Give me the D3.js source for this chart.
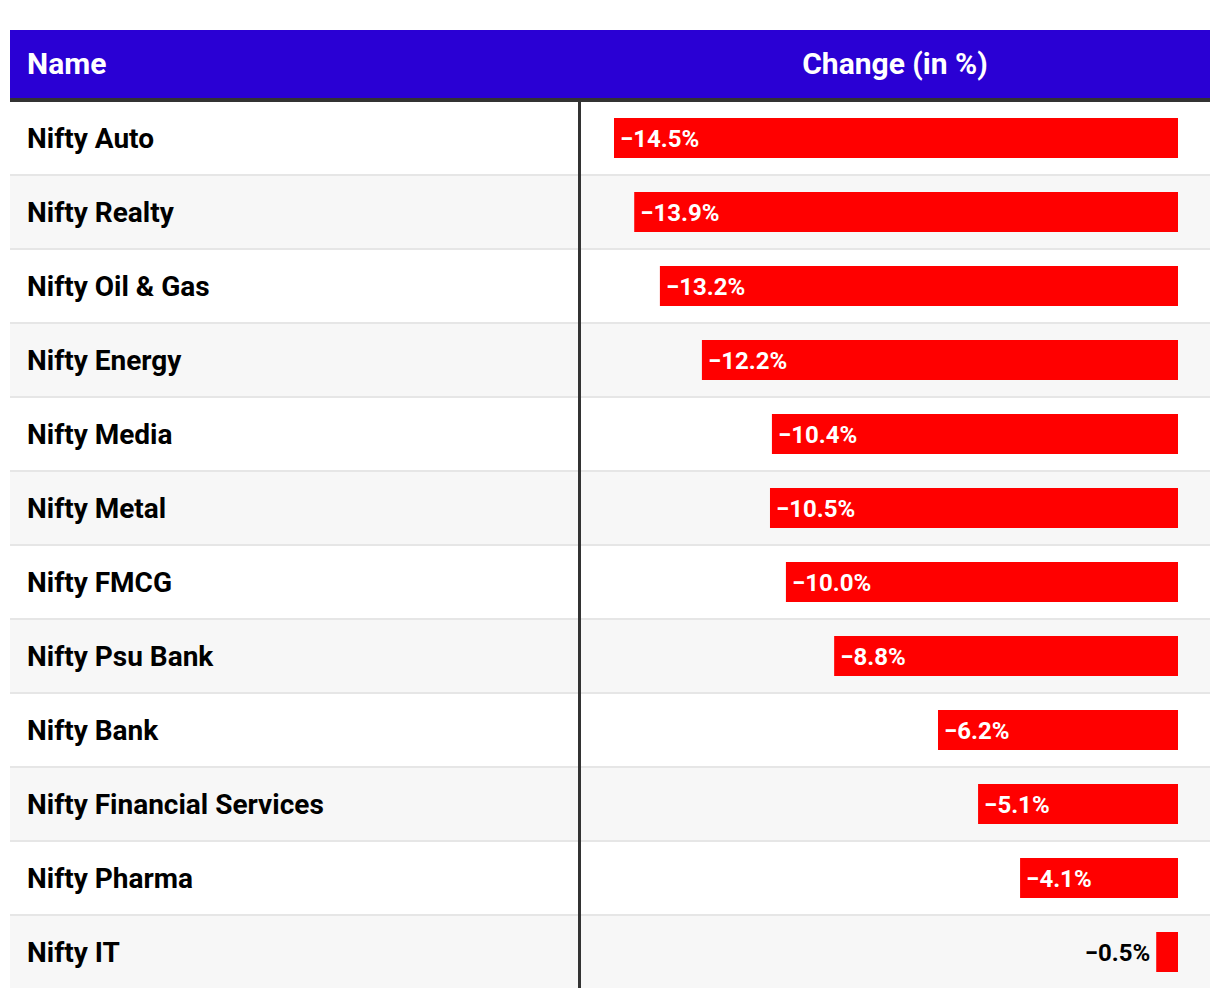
<!DOCTYPE html>
<html>
<head>
<meta charset="utf-8">
<script src="https://cdn.jsdelivr.net/npm/d3@7"></script>
<style>
  html, body { margin: 0; padding: 0; background: #ffffff; }
  svg { display: block; font-family: Roboto, "Noto Sans", sans-serif; }
</style>
</head>
<body>
<div id="chart"></div>
<script>
const names = ["Nifty Auto", "Nifty Realty", "Nifty Oil & Gas", "Nifty Energy", "Nifty Media", "Nifty Metal", "Nifty FMCG", "Nifty Psu Bank", "Nifty Bank", "Nifty Financial Services", "Nifty Pharma", "Nifty IT"];
const changes = [-14.5, -13.98, -13.32, -12.24, -10.44, -10.49, -10.08, -8.84, -6.17, -5.14, -4.06, -0.56];
const changeLabels = ["−14.5%", "−13.9%", "−13.2%", "−12.2%", "−10.4%", "−10.5%", "−10.0%", "−8.8%", "−6.2%", "−5.1%", "−4.1%", "−0.5%"];
const headers = ["Name", "Change (in %)"];

const W = 1220, H = 998;
const left = 10, right = 1210, headTop = 30, headBottom = 98, bodyTop = 102, rowH = 74;
const divX = 578;

const svg = d3.select("#chart").append("svg").attr("width", W).attr("height", H);

// header
svg.append("rect").attr("x", left).attr("y", headTop).attr("width", right - left).attr("height", headBottom - headTop).attr("fill", "#2a00d4");
svg.append("rect").attr("x", left).attr("y", headBottom).attr("width", right - left).attr("height", bodyTop - headBottom).attr("fill", "#333333");
svg.append("text").attr("x", 27).attr("y", 74).attr("fill", "#ffffff").attr("font-size", 30).attr("font-weight", 700).text(headers[0]);
svg.append("text").attr("x", (divX + 2 + right) / 2).attr("y", 74).attr("text-anchor", "middle").attr("fill", "#ffffff").attr("font-size", 30).attr("font-weight", 700).text(headers[1]);

const data = names.map((n, i) => ({ name: n, value: changes[i], label: changeLabels[i] }));

const y = d3.scaleBand().domain(names).range([bodyTop, bodyTop + rowH * names.length]).paddingInner(0).paddingOuter(0);
const x = d3.scaleLinear().domain([d3.min(changes), 0]).range([614, 1178]);

const rows = svg.selectAll("g.row").data(data).join("g").attr("class", "row")
  .attr("transform", d => `translate(0,${y(d.name)})`);

rows.append("rect").attr("x", left).attr("y", 0).attr("width", right - left).attr("height", rowH - 2)
  .attr("fill", (d, i) => i % 2 ? "#f7f7f7" : "#ffffff");
rows.filter((d, i) => i < names.length - 1).append("rect")
  .attr("x", left).attr("y", rowH - 2).attr("width", right - left).attr("height", 2).attr("fill", "#e6e6e6");

rows.append("text").attr("x", 27).attr("y", 46).attr("fill", "#000000").attr("font-size", 28).attr("font-weight", 700).text(d => d.name);

rows.append("rect")
  .attr("x", d => x(d.value)).attr("y", 16)
  .attr("width", d => x(0) - x(d.value)).attr("height", 40)
  .attr("fill", "#ff0000");

const inside = d => (x(0) - x(d.value)) > 60;
rows.append("text")
  .attr("x", d => inside(d) ? x(d.value) + 6 : x(d.value) - 6)
  .attr("y", 45)
  .attr("text-anchor", d => inside(d) ? "start" : "end")
  .attr("fill", d => inside(d) ? "#ffffff" : "#000000")
  .attr("font-size", 24).attr("font-weight", 700)
  .text(d => d.label);

// divider
svg.append("rect").attr("x", divX).attr("y", bodyTop).attr("width", 3).attr("height", rowH * names.length - 2).attr("fill", "#333333");
</script>
</body>
</html>
